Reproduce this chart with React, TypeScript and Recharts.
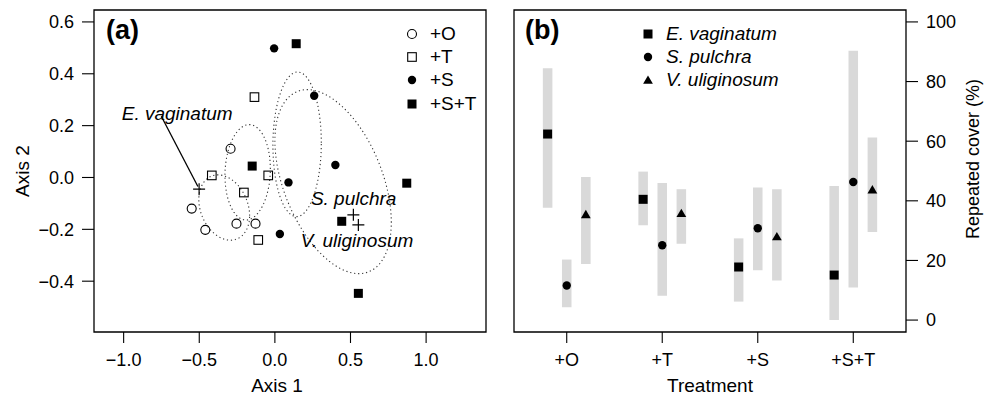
import React from 'react';
import {
  ScatterChart,
  Scatter,
  XAxis,
  YAxis,
  ReferenceArea,
  ReferenceLine,
  ReferenceDot,
  Legend,
  Label
} from 'recharts';

const FONT = '"Liberation Sans", Arial, Helvetica, sans-serif';

const treatments = ['+O', '+T', '+S', '+S+T'];
const speciesNames = ['E. vaginatum', 'S. pulchra', 'V. uliginosum'];

// (a) plot scores on the two ordination axes
const axis1O = [-0.293, -0.55, -0.46, -0.254, -0.128];
const axis2O = [0.111, -0.12, -0.202, -0.178, -0.178];
const axis1T = [-0.135, -0.417, -0.205, -0.044, -0.11];
const axis2T = [0.31, 0.008, -0.058, 0.008, -0.241];
const axis1S = [-0.005, 0.26, 0.4, 0.09, 0.033];
const axis2S = [0.498, 0.315, 0.048, -0.019, -0.218];
const axis1ST = [0.141, -0.15, 0.872, 0.442, 0.552];
const axis2ST = [0.516, 0.044, -0.022, -0.169, -0.447];

// species scores (crosses) and where their names sit
const speciesAxis1 = [-0.501, 0.519, 0.552];
const speciesAxis2 = [-0.045, -0.144, -0.183];
const labelAxis1 = [-0.646, 0.521, 0.543];
const labelAxis2 = [0.247, -0.079, -0.242];

// group ellipses (+O, +T, +S, +S+T): centre, half ranges, phase between x and y
const ellipseCx = [-0.335, -0.18, 0.147, 0.385];
const ellipseCy = [-0.116, 0.02, 0.128, -0.016];
const ellipseRx = [0.168, 0.15, 0.16, 0.385];
const ellipseRy = [0.126, 0.184, 0.279, 0.355];
const ellipsePhase = [1.82, 1.5, 1.55, 2.03];

// (b) repeated cover (%) per treatment, mean and range
const eVagMean = [62.4, 40.5, 17.8, 15.1];
const eVagLow = [37.7, 31.8, 6.2, 0];
const eVagHigh = [84.5, 49.8, 27.4, 45];
const sPulMean = [11.6, 25.1, 30.8, 46.3];
const sPulLow = [4.3, 8.2, 16.7, 10.9];
const sPulHigh = [20.3, 46, 44.5, 90.3];
const vUliMean = [35.1, 35.5, 27.7, 43.4];
const vUliLow = [18.8, 25.6, 13.3, 29.5];
const vUliHigh = [48, 43.9, 43.9, 61.2];

const X_A: [number, number] = [-1.196, 1.396];
const Y_A: [number, number] = [-0.596, 0.646];
const X_B: [number, number] = [0.448, 4.552];
const Y_B: [number, number] = [-4, 104];

const toPoints = (xs: number[], ys: number[]) => xs.map((x, i) => ({ x, y: ys[i] }));

const ellipseOutline = (i: number) => {
  const pts = [];
  for (let k = 0; k <= 96; k++) {
    const t = (k / 96) * 2 * Math.PI;
    pts.push({
      x: ellipseCx[i] + ellipseRx[i] * Math.cos(t),
      y: ellipseCy[i] + ellipseRy[i] * Math.cos(t - ellipsePhase[i])
    });
  }
  return pts;
};

const minus = (s: string) => s.replace('-', '\u2212');

// symbols
const OpenCircle = ({ cx, cy }: any) => (
  <circle cx={cx} cy={cy} r={4.5} fill="none" stroke="#000" strokeWidth={1.1} />
);
const OpenSquare = ({ cx, cy }: any) => (
  <rect x={cx - 4.3} y={cy - 4.3} width={8.6} height={8.6} fill="none" stroke="#000" strokeWidth={1.1} />
);
const FilledCircle = ({ cx, cy }: any) => <circle cx={cx} cy={cy} r={4.2} fill="#000" />;
const FilledSquare = ({ cx, cy }: any) => (
  <rect x={cx - 4.5} y={cy - 4.5} width={9} height={9} fill="#000" />
);
const Triangle = ({ cx, cy }: any) => (
  <path d={`M${cx},${cy - 5.6}L${cx + 4.9},${cy + 2.8}L${cx - 4.9},${cy + 2.8}Z`} fill="#000" />
);
const Cross = ({ cx, cy }: any) => (
  <path d={`M${cx - 6},${cy}H${cx + 6}M${cx},${cy - 6}V${cy + 6}`} stroke="#000" strokeWidth={1.2} />
);
const NoShape = () => <g />;

const tickStyle = { fill: '#000', fontSize: 18, fontFamily: FONT };
const tickLine = { stroke: '#000', strokeWidth: 1.1 };

const LegendRow = ({ icon, text, italic }: any) => (
  <div style={{ display: 'flex', alignItems: 'center', height: 23.3 }}>
    <svg width={18} height={18} style={{ marginRight: 9 }}>
      {icon}
    </svg>
    <span style={{ fontStyle: italic ? 'italic' : 'normal' }}>{text}</span>
  </div>
);

const legendA = () => (
  <div style={{ fontFamily: FONT, fontSize: 19, color: '#000' }}>
    <LegendRow icon={<OpenCircle cx={9} cy={9} />} text={treatments[0]} />
    <LegendRow icon={<OpenSquare cx={9} cy={9} />} text={treatments[1]} />
    <LegendRow icon={<FilledCircle cx={9} cy={9} />} text={treatments[2]} />
    <LegendRow icon={<FilledSquare cx={9} cy={9} />} text={treatments[3]} />
  </div>
);

const legendB = () => (
  <div style={{ fontFamily: FONT, fontSize: 19, color: '#000', whiteSpace: 'nowrap' }}>
    <LegendRow icon={<FilledSquare cx={9} cy={9} />} text={speciesNames[0]} italic />
    <LegendRow icon={<FilledCircle cx={9} cy={9} />} text={speciesNames[1]} italic />
    <LegendRow icon={<Triangle cx={9} cy={10} />} text={speciesNames[2]} italic />
  </div>
);

const offsets = [-0.2, 0, 0.2];
const speciesMean = [eVagMean, sPulMean, vUliMean];
const speciesLow = [eVagLow, sPulLow, vUliLow];
const speciesHigh = [eVagHigh, sPulHigh, vUliHigh];
const speciesShape = [FilledSquare, FilledCircle, Triangle];

const App = () => {
  const groupsA = [
    { data: toPoints(axis1O, axis2O), shape: OpenCircle },
    { data: toPoints(axis1T, axis2T), shape: OpenSquare },
    { data: toPoints(axis1S, axis2S), shape: FilledCircle },
    { data: toPoints(axis1ST, axis2ST), shape: FilledSquare }
  ];
  const speciesPts = toPoints(speciesAxis1, speciesAxis2);

  return (
    <div style={{ position: 'absolute', left: 0, top: 0, width: 986, height: 403, fontFamily: FONT, background: '#fff' }}>
      <div style={{ position: 'absolute', left: 0, top: 0 }}>
        <ScatterChart width={500} height={403} margin={{ top: 10, right: 14, bottom: 0, left: 0 }}>
          <XAxis
            type="number"
            dataKey="x"
            domain={X_A}
            allowDataOverflow
            ticks={[-1, -0.5, 0, 0.5, 1]}
            tickFormatter={(v: number) => minus(v.toFixed(1))}
            axisLine={false}
            tickSize={11}
            tickMargin={10}
            tick={tickStyle}
            tickLine={tickLine}
            height={71}
          >
            <Label value="Axis 1" position="insideBottom" offset={11} dx={-13} fontSize={19} fill="#000" />
          </XAxis>
          <YAxis
            type="number"
            dataKey="y"
            domain={Y_A}
            allowDataOverflow
            ticks={[-0.4, -0.2, 0, 0.2, 0.4, 0.6]}
            tickFormatter={(v: number) => minus(v.toFixed(1))}
            axisLine={false}
            tickSize={12}
            tickMargin={8}
            tick={tickStyle}
            tickLine={tickLine}
            width={94}
          >
            <Label value="Axis 2" position="center" angle={-90} dx={-25} fontSize={19} fill="#000" />
          </YAxis>
          <ReferenceArea x1={X_A[0]} x2={X_A[1]} y1={Y_A[0]} y2={Y_A[1]} fill="none" stroke="#000" strokeWidth={1.3} ifOverflow="visible" />
          {ellipseCx.map((_, i) => (
            <Scatter
              key={`ell-${i}`}
              data={ellipseOutline(i)}
              line={{ stroke: '#333', strokeWidth: 1.1, strokeDasharray: '1.2 2.8' }}
              lineType="joint"
              shape={NoShape}
              legendType="none"
              isAnimationActive={false}
            />
          ))}
          {groupsA.map((g, i) => (
            <Scatter key={`grp-${i}`} data={g.data} shape={g.shape} legendType="none" isAnimationActive={false} />
          ))}
          <Scatter data={speciesPts} shape={Cross} legendType="none" isAnimationActive={false} />
          <ReferenceLine
            segment={[
              { x: labelAxis1[0] - 0.105, y: labelAxis2[0] - 0.011 },
              { x: speciesAxis1[0] - 0.008, y: speciesAxis2[0] + 0.01 }
            ]}
            stroke="#000"
            strokeWidth={1.3}
            ifOverflow="visible"
          />
          {speciesNames.map((name, i) => (
            <ReferenceDot
              key={name}
              x={labelAxis1[i]}
              y={labelAxis2[i]}
              r={0}
              fill="none"
              stroke="none"
              ifOverflow="visible"
              label={{ value: name, position: 'center', fontSize: 19, fontStyle: 'italic', fill: '#000' }}
            />
          ))}
          <Legend
            content={legendA}
            layout="vertical"
            align="center"
            verticalAlign="middle"
            wrapperStyle={{ left: 403, top: 22, width: 90 }}
          />
          <text x={106} y={39} fontSize={27} fontWeight="bold" fill="#000">(a)</text>
        </ScatterChart>
      </div>

      <div style={{ position: 'absolute', left: 500, top: 0 }}>
        <ScatterChart width={486} height={403} margin={{ top: 10, right: 0, bottom: 0, left: 14 }}>
          <XAxis
            type="number"
            dataKey="x"
            domain={X_B}
            allowDataOverflow
            ticks={[1, 2, 3, 4]}
            tickFormatter={(v: number) => treatments[v - 1]}
            axisLine={false}
            tickSize={11}
            tickMargin={10}
            tick={tickStyle}
            tickLine={tickLine}
            height={71}
          >
            <Label value="Treatment" position="insideBottom" offset={11} fontSize={19} fill="#000" />
          </XAxis>
          <YAxis
            type="number"
            dataKey="y"
            orientation="right"
            domain={Y_B}
            allowDataOverflow
            ticks={[0, 20, 40, 60, 80, 100]}
            axisLine={false}
            tickSize={12}
            tickMargin={8}
            tick={tickStyle}
            tickLine={tickLine}
            width={80}
          >
            <Label value="Repeated cover (%)" position="center" angle={-90} dx={27} dy={-12} fontSize={18} fill="#000" />
          </YAxis>
          <ReferenceArea x1={X_B[0]} x2={X_B[1]} y1={Y_B[0]} y2={Y_B[1]} fill="none" stroke="#000" strokeWidth={1.3} ifOverflow="visible" />
          {treatments.map((t, i) =>
            offsets.map((off, j) => (
              <ReferenceArea
                key={`rng-${t}-${j}`}
                x1={i + 1 + off - 0.05}
                x2={i + 1 + off + 0.05}
                y1={speciesLow[j][i]}
                y2={speciesHigh[j][i]}
                fill="#d9d9d9"
                fillOpacity={1}
                stroke="none"
                ifOverflow="visible"
              />
            ))
          )}
          {speciesNames.map((name, j) => (
            <Scatter
              key={name}
              data={speciesMean[j].map((v, i) => ({ x: i + 1 + offsets[j], y: v }))}
              shape={speciesShape[j]}
              legendType="none"
              isAnimationActive={false}
            />
          ))}
          <Legend
            content={legendB}
            layout="vertical"
            align="center"
            verticalAlign="middle"
            wrapperStyle={{ left: 139, top: 22, width: 200 }}
          />
          <text x={25} y={39} fontSize={27} fontWeight="bold" fill="#000">(b)</text>
        </ScatterChart>
      </div>
    </div>
  );
};

export default App;
